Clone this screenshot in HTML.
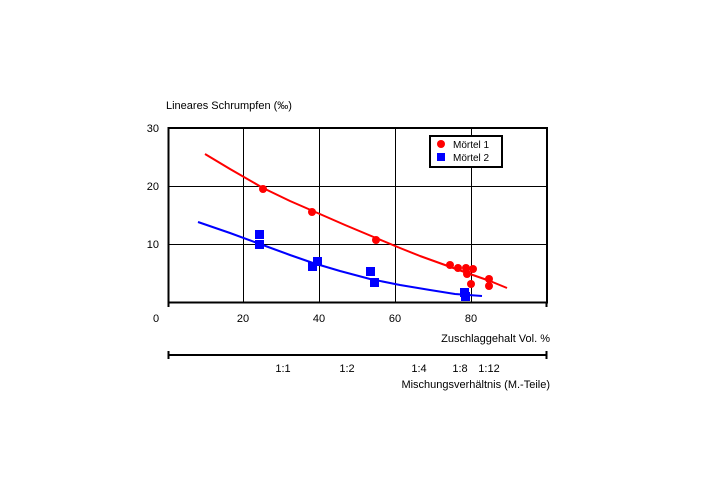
<!DOCTYPE html><html><head><style>body{margin:0;background:#fff}svg{display:block}text{font-family:"Liberation Sans",sans-serif;font-size:11px;fill:#000}</style></head><body>
<svg width="720" height="480" viewBox="0 0 720 480">
<rect width="720" height="480" fill="#fff"/>
<g stroke="#000" stroke-width="1">
<line x1="243.5" y1="128" x2="243.5" y2="302"/><line x1="319.5" y1="128" x2="319.5" y2="302"/><line x1="395.5" y1="128" x2="395.5" y2="302"/><line x1="471.5" y1="128" x2="471.5" y2="302"/>
<line x1="168" y1="186.5" x2="547" y2="186.5"/><line x1="168" y1="244.5" x2="547" y2="244.5"/>
</g>
<rect x="168.5" y="128" width="378.5" height="174.5" fill="none" stroke="#000" stroke-width="2"/>
<line x1="168.5" y1="302" x2="168.5" y2="307" stroke="#000" stroke-width="2"/><line x1="546.5" y1="302" x2="546.5" y2="307" stroke="#000" stroke-width="2"/>
<line x1="168" y1="355" x2="547" y2="355" stroke="#000" stroke-width="2"/>
<line x1="168.5" y1="351" x2="168.5" y2="359" stroke="#000" stroke-width="2"/><line x1="546.5" y1="351" x2="546.5" y2="359" stroke="#000" stroke-width="2"/>
<text x="166" y="109">Lineares Schrumpfen (‰)</text>
<text x="159" y="132" text-anchor="end">30</text><text x="159" y="190" text-anchor="end">20</text><text x="159" y="248" text-anchor="end">10</text>
<text x="156" y="322" text-anchor="middle">0</text><text x="243" y="322" text-anchor="middle">20</text><text x="319" y="322" text-anchor="middle">40</text><text x="395" y="322" text-anchor="middle">60</text><text x="471" y="322" text-anchor="middle">80</text>
<text x="550" y="342" text-anchor="end">Zuschlaggehalt Vol. %</text>
<text x="283" y="372" text-anchor="middle">1:1</text><text x="347" y="372" text-anchor="middle">1:2</text><text x="419" y="372" text-anchor="middle">1:4</text><text x="460" y="372" text-anchor="middle">1:8</text><text x="489" y="372" text-anchor="middle">1:12</text>
<text x="550" y="388" text-anchor="end">Mischungsverhältnis (M.-Teile)</text>
<polyline points="205,154 230,169 263,188 290,201 313,211 345,225 376,238 400,248 420,256 445,265 470,274 490,281 507,288" fill="none" stroke="#f00" stroke-width="2" stroke-linejoin="round"/>
<polyline points="198,222 230,233 260,244 290,255 313,263 340,271 370,279 400,285 430,290 455,294 482,296" fill="none" stroke="#00f" stroke-width="2" stroke-linejoin="round"/>
<g fill="#f00"><circle cx="263" cy="189" r="4"/><circle cx="312" cy="212" r="4"/><circle cx="376" cy="240" r="4"/><circle cx="450" cy="265" r="4"/><circle cx="458" cy="268" r="4"/><circle cx="466" cy="268" r="4"/><circle cx="473" cy="269" r="4"/><circle cx="467" cy="274" r="4"/><circle cx="471" cy="284" r="4"/><circle cx="489" cy="279" r="4"/><circle cx="489" cy="286" r="4"/></g>
<g fill="#00f"><rect x="255" y="230" width="9" height="9"/><rect x="255" y="240" width="9" height="9"/><rect x="308" y="262" width="9" height="9"/><rect x="313" y="257" width="9" height="9"/><rect x="366" y="267" width="9" height="9"/><rect x="370" y="278" width="9" height="9"/><rect x="460" y="288" width="9" height="9"/><rect x="461" y="292" width="9" height="9"/></g>
<rect x="430" y="136" width="72" height="31" fill="#fff" stroke="#000" stroke-width="2"/>
<circle cx="441" cy="144" r="4" fill="#f00"/><rect x="437" y="153" width="8" height="8" fill="#00f"/>
<text x="453" y="148" style="font-size:10px">Mörtel 1</text><text x="453" y="161" style="font-size:10px">Mörtel 2</text>
</svg></body></html>
